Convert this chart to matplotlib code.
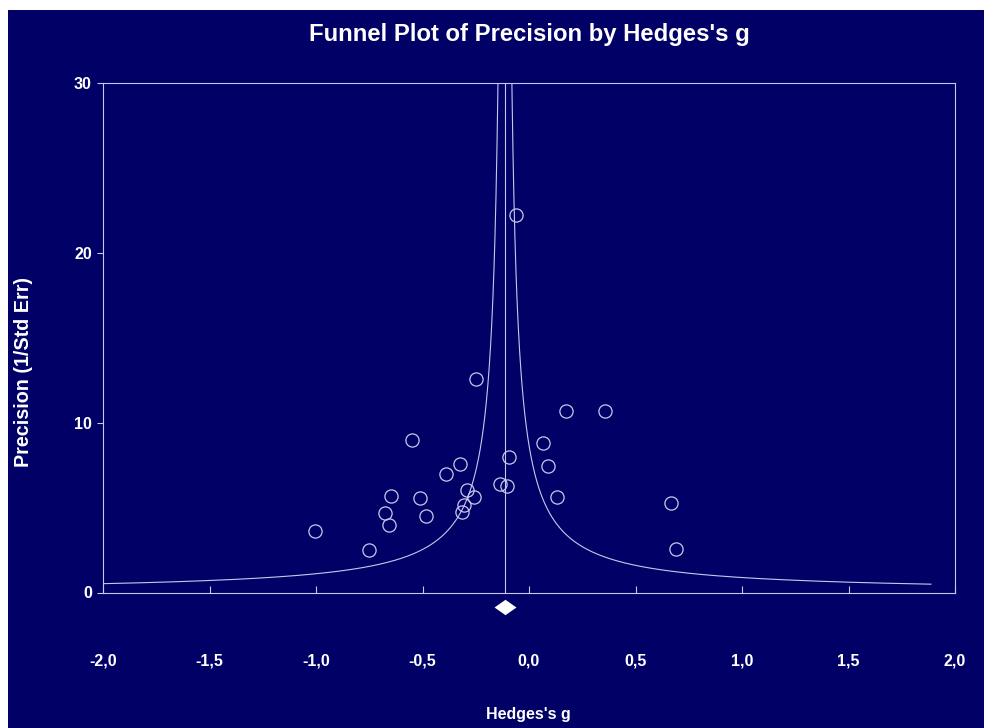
import numpy as np
import matplotlib
matplotlib.use("Agg")
import matplotlib.pyplot as plt
from matplotlib.patches import Rectangle

# ------------------ DATA ------------------
hedges_g = [-1.007, -0.750, -0.677, -0.650, -0.658, -0.551, -0.511, -0.485,
            -0.389, -0.323, -0.315, -0.304, -0.293, -0.258, -0.249, -0.138,
            -0.103, -0.095, -0.060, 0.068, 0.089, 0.130, 0.172, 0.358,
            0.666, 0.691]
precision = [3.65, 2.53, 4.71, 5.70, 3.97, 8.99, 5.56, 4.50,
             7.00, 7.55, 4.74, 5.17, 6.05, 5.60, 12.59, 6.37,
             6.25, 7.96, 22.24, 8.83, 7.43, 5.60, 10.68, 10.66,
             5.27, 2.57]
mean_g = -0.113
funnel_k = 0.98
xticks = [-2.0, -1.5, -1.0, -0.5, 0.0, 0.5, 1.0, 1.5, 2.0]
xtick_labels = ['-2,0', '-1,5', '-1,0', '-0,5', '0,0', '0,5', '1,0', '1,5', '2,0']
yticks = [0, 10, 20, 30]

# ------------------ STYLE ------------------
NAVY = '#000066'
LINE = '#c8c8ee'
FONT = ['Liberation Sans', 'DejaVu Sans']

W, H = 984, 728
fig = plt.figure(figsize=(W / 100, H / 100), dpi=100, facecolor='white')
fig.patches.append(Rectangle((8 / W, 0), 1, (H - 10) / H, transform=fig.transFigure,
                             facecolor=NAVY, edgecolor='none', zorder=-10))

ax = fig.add_axes([103 / W, (H - 592.5) / H, (955 - 103) / W, (592.5 - 83) / H])
ax.set_facecolor(NAVY)
ax.set_xlim(-2.0, 2.0)
ax.set_ylim(0, 30)

for s in ax.spines.values():
    s.set_color(LINE)
    s.set_linewidth(0.8)

# funnel limits around the mean
prec_grid = np.linspace(0.49, 40, 2000)
ax.plot(mean_g - funnel_k / prec_grid, prec_grid, color=LINE, lw=0.8)
ax.plot(mean_g + funnel_k / prec_grid, prec_grid, color=LINE, lw=0.8)
ax.plot([mean_g, mean_g], [0, 30], color=LINE, lw=0.8)

# studies
ax.plot(hedges_g, precision, linestyle='none', marker='o', ms=9.5,
        markerfacecolor='none', markeredgecolor=LINE, markeredgewidth=0.9)

# summary diamond below the axis
ax.scatter([mean_g], [-0.86], marker=[(-1, 0), (0, 0.7), (1, 0), (0, -0.7), (-1, 0)],
           s=250, color='white', clip_on=False, zorder=5, linewidths=0)

ax.set_xticks(xticks)
ax.set_xticklabels(xtick_labels)
ax.set_yticks(yticks)
ax.tick_params(axis='x', direction='in', length=5, width=0.8, color=LINE,
               pad=44, labelcolor='white', labelsize=11.5)
ax.tick_params(axis='y', direction='out', length=4, width=0.8, color=LINE,
               pad=4, labelcolor='white', labelsize=11.5)
for lab in ax.get_xticklabels() + ax.get_yticklabels():
    lab.set_family(FONT)
    lab.set_fontweight('bold')

fig.text(529 / W, 1 - 35 / H, "Funnel Plot of Precision by Hedges's g",
         ha='center', va='center', color='white', fontsize=17.2,
         family=FONT, fontweight='bold')
fig.text(24 / W, 1 - 372 / H, "Precision (1/Std Err)", rotation=90,
         ha='center', va='center', color='white', fontsize=14.2,
         family=FONT, fontweight='bold')
fig.text(528 / W, 1 - 715 / H, "Hedges's g", ha='center', va='center',
         color='white', fontsize=11.5, family=FONT, fontweight='bold')

fig.savefig('out.png', dpi=100, facecolor='white')
